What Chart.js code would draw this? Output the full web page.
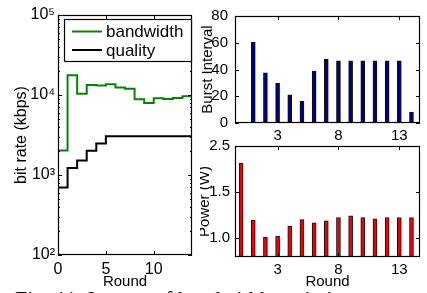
<!DOCTYPE html>
<html>
<head>
<meta charset="utf-8">
<script src="https://cdn.jsdelivr.net/npm/chart.js@4.4.0/dist/chart.umd.min.js"></script>
<style>
  html, body { margin: 0; padding: 0; background: #fff; overflow: hidden; }
  body { width: 427px; height: 293px; position: relative; }
  canvas { position: absolute; }
  #caption {
    position: absolute; left: 15px; top: 288px;
    font-family: "Liberation Serif", "DejaVu Serif", serif;
    font-size: 22px; line-height: 1; white-space: nowrap; color: #000;
  }
</style>
</head>
<body>
<canvas id="rate" width="200" height="293" style="left:0;top:0"></canvas>
<canvas id="burst" width="227" height="141" style="left:200px;top:0"></canvas>
<canvas id="power" width="227" height="163" style="left:200px;top:130px"></canvas>
<div id="caption">Fig. 11. Impact of bandwidth variation</div>
<script>
// --- data ---
// left panel: per-round step values (round i holds over [i, i+1])
const rateRounds = [0, 1, 2, 3, 4, 5, 6, 7, 8, 9, 10, 11, 12, 13];
const bandwidthKbps = [2030, 17600, 10400, 13300, 13100, 13600, 12400, 12000, 8840, 7950, 9100, 8920, 9180, 9630];
const qualityKbps = [700, 1220, 1520, 2010, 2480, 3060, 3060, 3060, 3060, 3060, 3060, 3060, 3060, 3060];
const rateTickValues = [100, 1000, 10000, 100000];
const rateTickLabels = ['10²', '10³', '10⁴', '10⁵'];
const rateRoundTicks = [0, 5, 10];

// top right: burst interval per round
const burstRounds = [1, 2, 3, 4, 5, 6, 7, 8, 9, 10, 11, 12, 13, 14];
const burstInterval = [60.4, 37.5, 29.7, 21.1, 16.2, 38.8, 47.6, 46.4, 46.4, 46.4, 46.4, 46.4, 46.4, 8.1];

// bottom right: power per round
const powerRounds = [0, 1, 2, 3, 4, 5, 6, 7, 8, 9, 10, 11, 12, 13, 14];
const powerW = [1.815, 1.19, 1.007, 1.018, 1.127, 1.199, 1.163, 1.185, 1.221, 1.239, 1.221, 1.207, 1.221, 1.221, 1.221];
const powerTickValues = [1.0, 1.5, 2.0];
const powerTickLabels = ['1.0', '1.5', '2.5'];

const roundTicks = [3, 8, 13];

const FONT = '"Liberation Sans", Arial, sans-serif';

// matlab style box with inward ticks
const boxTicks = {
  id: 'boxTicks',
  afterDatasetsDraw(chart, args, opts) {
    const ctx = chart.ctx, a = chart.chartArea;
    const xs = chart.scales.x, ys = chart.scales.y;
    ctx.save();
    ctx.strokeStyle = '#000';
    ctx.lineWidth = 1;
    const seg = (x1, y1, x2, y2) => { ctx.beginPath(); ctx.moveTo(x1, y1); ctx.lineTo(x2, y2); ctx.stroke(); };
    xs.ticks.forEach(t => {
      const px = Math.round(xs.getPixelForValue(t.value)) + 0.5;
      seg(px, a.bottom, px, a.bottom - 4);
      seg(px, a.top, px, a.top + 4);
    });
    ys.ticks.forEach(t => {
      const py = Math.round(ys.getPixelForValue(t.value)) + 0.5;
      seg(a.left, py, a.left + 4, py);
      seg(a.right, py, a.right - 4, py);
    });
    if (opts.logMinor) {
      for (let d = 2; d < 5; d++) {
        for (let k = 2; k < 10; k++) {
          const py = Math.round(ys.getPixelForValue(k * Math.pow(10, d))) + 0.5;
          seg(a.left, py, a.left + 2, py);
          seg(a.right, py, a.right - 2, py);
        }
      }
    }
    ctx.lineWidth = 1.2;
    ctx.strokeRect(Math.round(a.left) + 0.5, Math.round(a.top) + 0.5, Math.round(a.width) - 1, Math.round(a.height) - 1);
    ctx.restore();
  }
};

// legend box in the upper part of the left plot
const boxLegend = {
  id: 'boxLegend',
  afterDraw(chart) {
    const ctx = chart.ctx, a = chart.chartArea;
    const left = a.left + 6, top = a.top + 4, right = a.right - 1, h = 42;
    ctx.save();
    ctx.fillStyle = '#fff';
    ctx.fillRect(left, top, right - left, h);
    ctx.strokeStyle = '#000';
    ctx.lineWidth = 1.2;
    ctx.strokeRect(left + 0.5, top + 0.5, right - left, h);
    ctx.font = '17px ' + FONT;
    ctx.textBaseline = 'middle';
    chart.data.datasets.forEach((ds, i) => {
      const y = top + 12.5 + i * 18.5;
      ctx.strokeStyle = ds.borderColor;
      ctx.lineWidth = 2;
      ctx.beginPath(); ctx.moveTo(left + 8, y); ctx.lineTo(left + 38, y); ctx.stroke();
      ctx.fillStyle = '#000';
      ctx.fillText(ds.label, left + 42, y + 1);
    });
    ctx.restore();
  }
};

function stepPoints(xs, ys) {
  const pts = xs.map((x, i) => ({ x: x, y: ys[i] }));
  pts.push({ x: xs[xs.length - 1] + 1, y: ys[ys.length - 1] });
  return pts;
}

function fixed(w, h) {
  return s => { if (w != null) s.width = w; if (h != null) s.height = h; };
}

Chart.defaults.font.family = FONT;
Chart.defaults.color = '#000';

new Chart(document.getElementById('rate'), {
  type: 'line',
  data: {
    datasets: [
      { label: 'bandwidth', data: stepPoints(rateRounds, bandwidthKbps), borderColor: 'rgb(10,128,10)', borderWidth: 2, stepped: 'before', pointRadius: 0, fill: false },
      { label: 'quality', data: stepPoints(rateRounds, qualityKbps), borderColor: '#000', borderWidth: 2, stepped: 'before', pointRadius: 0, fill: false }
    ]
  },
  options: {
    responsive: false,
    animation: false,
    layout: { padding: { top: 15, right: 8, left: 0, bottom: 0 } },
    plugins: { legend: { display: false }, tooltip: { enabled: false }, boxTicks: { logMinor: true } },
    scales: {
      x: {
        type: 'linear', min: 0, max: 14,
        afterBuildTicks: s => { s.ticks = rateRoundTicks.map(v => ({ value: v })); },
        ticks: { padding: 5, font: { size: 16 }, maxRotation: 0 },
        grid: { display: false, drawTicks: false }, border: { display: false },
        title: { display: true, text: 'Round', font: { size: 15, lineHeight: 1 }, padding: { top: 0, bottom: 4 } },
        afterFit: fixed(null, 38)
      },
      y: {
        type: 'logarithmic', min: 100, max: 100000,
        afterBuildTicks: s => { s.ticks = rateTickValues.map(v => ({ value: v })); },
        ticks: { padding: 3, font: { size: 16 }, callback: v => rateTickLabels[rateTickValues.indexOf(v)] },
        grid: { display: false, drawTicks: false }, border: { display: false },
        title: { display: true, text: 'bit rate (kbps)', font: { size: 16, lineHeight: 1 }, padding: { top: 14, bottom: 0 } },
        afterFit: fixed(58, null)
      }
    }
  },
  plugins: [boxTicks, boxLegend]
});

function barChart(id, xs, ys, color, yOpts, xTitle, xHeight, padTop) {
  return new Chart(document.getElementById(id), {
    type: 'bar',
    data: {
      datasets: [{ data: xs.map((x, i) => ({ x: x, y: ys[i] })), backgroundColor: color, borderColor: '#111', borderWidth: 1, barThickness: 4 }]
    },
    options: {
      responsive: false,
      animation: false,
      layout: { padding: { top: padTop, right: 7, left: 0, bottom: 0 } },
      plugins: { legend: { display: false }, tooltip: { enabled: false } },
      scales: {
        x: {
          type: 'linear', min: -0.5, max: 14.7, offset: false,
          afterBuildTicks: s => { s.ticks = roundTicks.map(v => ({ value: v })); },
          ticks: { padding: 4, font: { size: 15 }, maxRotation: 0 },
          grid: { display: false, drawTicks: false }, border: { display: false },
          title: xTitle ? { display: true, text: xTitle, font: { size: 15, lineHeight: 1 }, padding: { top: 0, bottom: 3.5 } } : { display: false },
          afterFit: fixed(null, xHeight)
        },
        y: Object.assign({
          grid: { display: false, drawTicks: false }, border: { display: false },
          afterFit: fixed(35, null)
        }, yOpts)
      }
    },
    plugins: [boxTicks]
  });
}

barChart('burst', burstRounds, burstInterval, '#00007a', {
  min: 0, max: 80,
  ticks: { stepSize: 20, padding: 7, font: { size: 15 } },
  title: { display: true, text: 'Burst Interval', font: { size: 15, lineHeight: 1 }, padding: { top: 0, bottom: 0 } }
}, null, 18, 14);

barChart('power', powerRounds, powerW, '#ee0000', {
  min: 0.79, max: 2.0,
  afterBuildTicks: s => { s.ticks = powerTickValues.map(v => ({ value: v })); },
  ticks: { padding: 5, font: { size: 15 }, callback: v => powerTickLabels[powerTickValues.indexOf(v)] },
  title: { display: true, text: 'Power (W)', font: { size: 15, lineHeight: 1 }, padding: { top: -3, bottom: 0 } }
}, 'Round', 36, 16);
</script>
</body>
</html>
